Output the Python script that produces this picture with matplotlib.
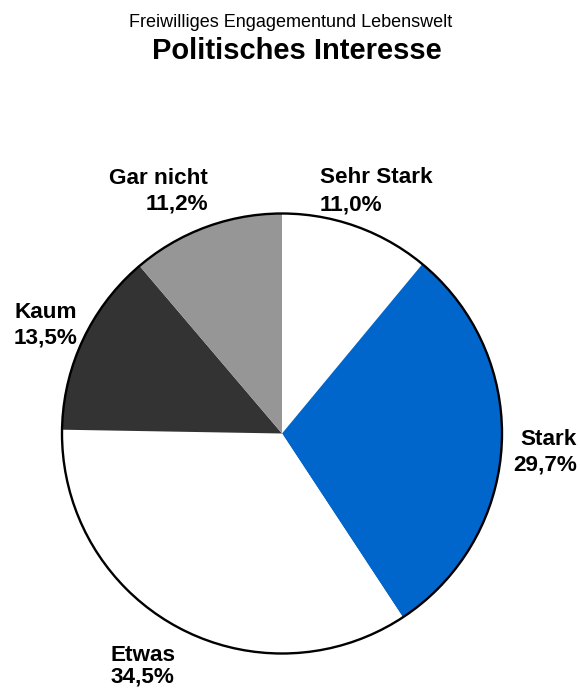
import matplotlib
matplotlib.use('Agg')
import matplotlib.pyplot as plt
from matplotlib.patches import Circle

plt.rcParams['font.family'] = ['Liberation Sans', 'DejaVu Sans']

kategorien = ['Sehr Stark', 'Stark', 'Etwas', 'Kaum', 'Gar nicht']
anteile = [11.0, 29.7, 34.5, 13.5, 11.2]
farben = ['#FFFFFF', '#0066CC', '#FFFFFF', '#333333', '#969696']

# Position der Beschriftungen (Pixel, von oben), Ausrichtung, Zeilenabstand
label_pos = {
    'Sehr Stark': (320, 167, 'left', 1.38),
    'Stark': (577, 429, 'right', 1.3),
    'Etwas': (111, 645, 'left', 1.05),
    'Kaum': (14, 302, 'left', 1.3),
    'Gar nicht': (208, 168, 'right', 1.27),
}

B, H = 580, 689
fig = plt.figure(figsize=(B / 100, H / 100), dpi=100)
ax = fig.add_axes([0, 0, 1, 1])

mitte = (282, H - 433.5)
radius = 220

ax.pie(anteile, colors=farben, startangle=90, counterclock=False,
       center=mitte, radius=radius, frame=True,
       wedgeprops=dict(linewidth=0.6, edgecolor='none'))
ax.add_patch(Circle(mitte, radius, fill=False, edgecolor='black', linewidth=1.7))
ax.set_xlim(0, B)
ax.set_ylim(0, H)
ax.set_aspect('equal')
ax.axis('off')

for name, wert in zip(kategorien, anteile):
    x, y, ha, ls = label_pos[name]
    text = f'{name}\n{wert:.1f}%'.replace('.', ',')
    ax.text(x, H - y, text, ha=ha, va='top', fontsize=16.2,
            fontweight='bold', linespacing=ls, multialignment=ha)

fig.text(291 / B, 1 - 27 / H, 'Freiwilliges Engagementund Lebenswelt',
         ha='center', va='baseline', fontsize=13)
fig.text(297 / B, 1 - 59 / H, 'Politisches Interesse',
         ha='center', va='baseline', fontsize=21, fontweight='bold')

fig.savefig('out.png', dpi=100, facecolor='white')
